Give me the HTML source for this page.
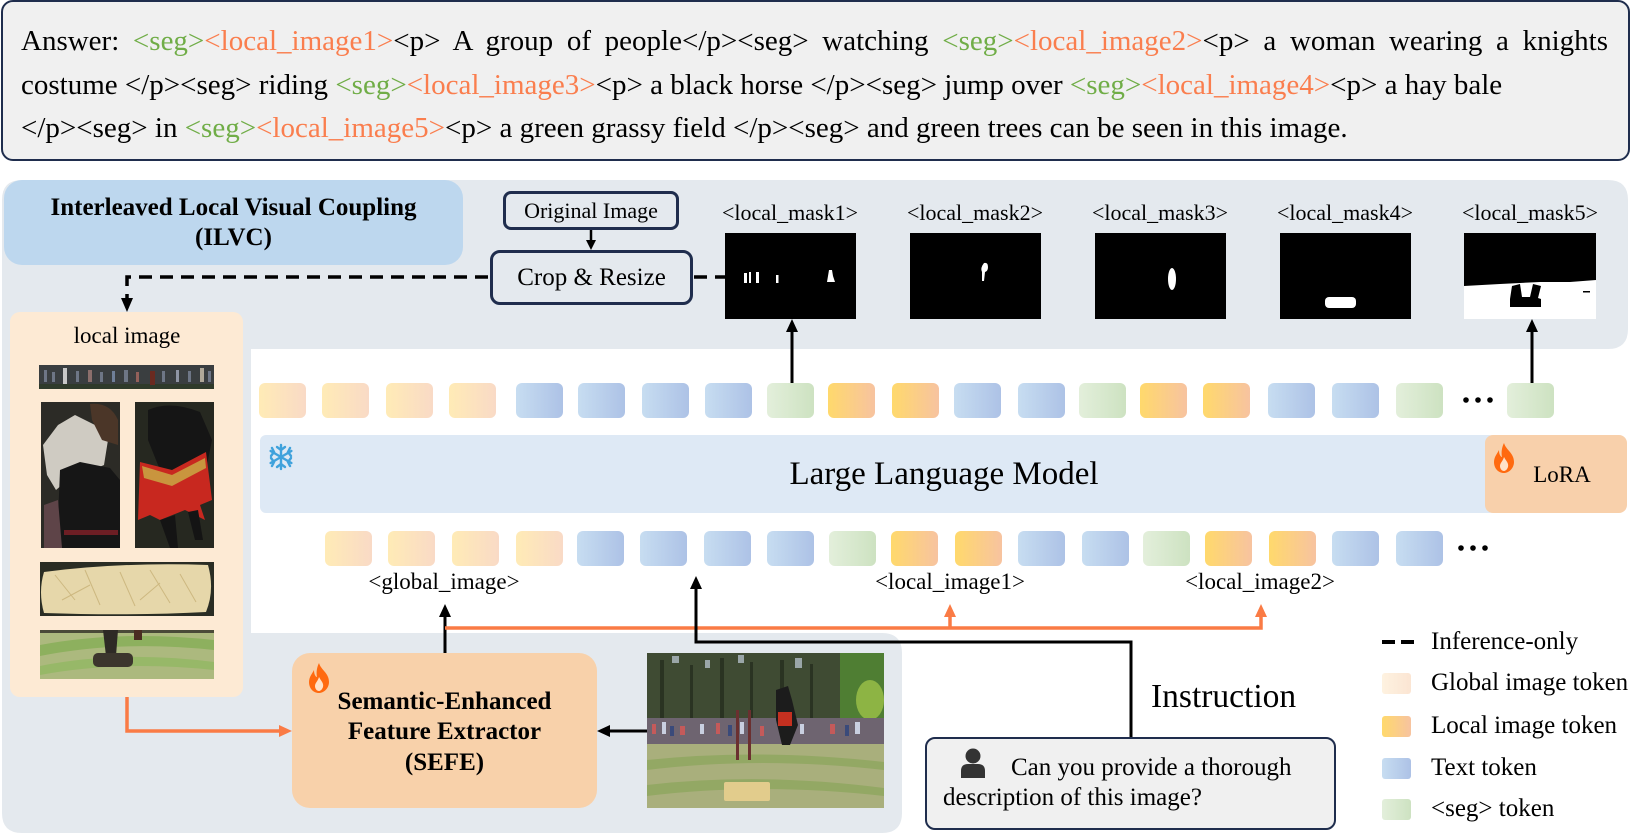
<!DOCTYPE html>
<html>
<head>
<meta charset="utf-8">
<style>
  html,body{margin:0;padding:0;background:#fff;}
  body{width:1647px;height:840px;position:relative;overflow:hidden;font-family:"Liberation Serif","Times New Roman",serif;color:#000;}
  .abs{position:absolute;}
  .ans{position:absolute;left:1px;top:0px;width:1625px;height:157px;background:#F0F0F0;border:2px solid #1F2D4D;border-radius:12px;}
  .txt{position:absolute;left:21px;top:20px;width:1587px;font-size:29px;line-height:43.5px;}
  .l1{text-align:justify;text-align-last:justify;white-space:nowrap;}
  .l2,.l3{white-space:nowrap;}
  .gr{color:#70AD47;}
  .or{color:#FA7E4E;}
  .box{position:absolute;display:flex;align-items:center;justify-content:center;text-align:center;box-sizing:border-box;}
  .t{position:absolute;width:47px;height:35px;border-radius:6px;}
  .g{background:linear-gradient(90deg,#FFEBB6,#F9DAC6);}
  .x{background:linear-gradient(90deg,#C7DDF1,#ADC2E6);}
  .s{background:linear-gradient(90deg,#E3EFDB,#CDE2C1);}
  .l{background:linear-gradient(90deg,#FFD96C,#F7C3A0);}
  .lab{position:absolute;text-align:center;white-space:nowrap;}
</style>
</head>
<body>

<!-- gray background shape -->
<svg class="abs" style="left:0;top:0;z-index:0" width="1647" height="840">
  <path d="M 22 180 H 1608 Q 1628 180 1628 200 V 329 Q 1628 349 1608 349 H 251 V 633 H 882 Q 902 633 902 653 V 813 Q 902 833 882 833 H 22 Q 2 833 2 813 V 200 Q 2 180 22 180 Z" fill="#E4E9EE"/>
</svg>

<!-- Answer box -->
<div class="ans" style="z-index:1"></div>
<div class="txt" style="z-index:2">
  <div class="l1">Answer: <span class="gr">&lt;seg&gt;</span><span class="or">&lt;local_image1&gt;</span>&lt;p&gt; A group of people&lt;/p&gt;&lt;seg&gt; watching <span class="gr">&lt;seg&gt;</span><span class="or">&lt;local_image2&gt;</span>&lt;p&gt; a woman wearing a knights</div>
  <div class="l2">costume &lt;/p&gt;&lt;seg&gt; riding <span class="gr">&lt;seg&gt;</span><span class="or">&lt;local_image3&gt;</span>&lt;p&gt; a black horse &lt;/p&gt;&lt;seg&gt; jump over <span class="gr">&lt;seg&gt;</span><span class="or">&lt;local_image4&gt;</span>&lt;p&gt; a hay bale</div>
  <div class="l3">&lt;/p&gt;&lt;seg&gt; in <span class="gr">&lt;seg&gt;</span><span class="or">&lt;local_image5&gt;</span>&lt;p&gt; a green grassy field &lt;/p&gt;&lt;seg&gt; and green trees can be seen in this image.</div>
</div>

<!-- ILVC box -->
<div class="box" style="left:4px;top:180px;width:459px;height:85px;background:#BDD7EE;border-radius:18px;font-weight:bold;font-size:25px;line-height:30px;z-index:1">Interleaved Local Visual Coupling<br>(ILVC)</div>

<!-- Original Image / Crop & Resize -->
<div class="box" style="left:503px;top:191px;width:176px;height:39px;border:3px solid #1F2D4D;border-radius:8px;font-size:22px;z-index:1">Original Image</div>
<div class="box" style="left:490px;top:250px;width:203px;height:55px;border:3px solid #1F2D4D;border-radius:10px;font-size:25px;z-index:1">Crop &amp; Resize</div>

<!-- local image panel -->
<div class="abs" style="left:10px;top:312px;width:233px;height:385px;background:#FDEAD4;border-radius:10px;z-index:1"></div>
<div class="lab" style="left:27px;top:322px;width:200px;font-size:23px;line-height:28px;z-index:2">local image</div>

<!-- mask labels -->
<div class="lab" style="left:700px;top:199px;width:180px;font-size:22px;line-height:28px;z-index:2">&lt;local_mask1&gt;</div>
<div class="lab" style="left:885px;top:199px;width:180px;font-size:22px;line-height:28px;z-index:2">&lt;local_mask2&gt;</div>
<div class="lab" style="left:1070px;top:199px;width:180px;font-size:22px;line-height:28px;z-index:2">&lt;local_mask3&gt;</div>
<div class="lab" style="left:1255px;top:199px;width:180px;font-size:22px;line-height:28px;z-index:2">&lt;local_mask4&gt;</div>
<div class="lab" style="left:1440px;top:199px;width:180px;font-size:22px;line-height:28px;z-index:2">&lt;local_mask5&gt;</div>

<!-- LLM bar -->
<div class="abs" style="left:260px;top:435px;width:1235px;height:78px;background:#DEE9F5;border-radius:6px;z-index:1"></div>
<div class="box" style="left:1485px;top:435px;width:142px;height:78px;background:#F8D0AB;border-radius:8px;z-index:2"></div>
<div class="lab" style="left:695px;top:454px;width:498px;font-size:33px;line-height:40px;z-index:3">Large Language Model</div>
<div class="lab" style="left:1512px;top:461px;width:100px;font-size:23px;line-height:28px;z-index:3">LoRA</div>

<!-- Row 1 tokens -->
<div style="position:absolute;left:0;top:0;z-index:2">
  <div class="t g" style="left:259px;top:383px"></div>
  <div class="t g" style="left:322px;top:383px"></div>
  <div class="t g" style="left:386px;top:383px"></div>
  <div class="t g" style="left:449px;top:383px"></div>
  <div class="t x" style="left:516px;top:383px"></div>
  <div class="t x" style="left:578px;top:383px"></div>
  <div class="t x" style="left:642px;top:383px"></div>
  <div class="t x" style="left:705px;top:383px"></div>
  <div class="t s" style="left:767px;top:383px"></div>
  <div class="t l" style="left:828px;top:383px"></div>
  <div class="t l" style="left:892px;top:383px"></div>
  <div class="t x" style="left:954px;top:383px"></div>
  <div class="t x" style="left:1018px;top:383px"></div>
  <div class="t s" style="left:1079px;top:383px"></div>
  <div class="t l" style="left:1140px;top:383px"></div>
  <div class="t l" style="left:1203px;top:383px"></div>
  <div class="t x" style="left:1268px;top:383px"></div>
  <div class="t x" style="left:1332px;top:383px"></div>
  <div class="t s" style="left:1396px;top:383px"></div>
  <div class="t s" style="left:1507px;top:383px"></div>

  <!-- Row 2 tokens -->
  <div class="t g" style="left:325px;top:531px"></div>
  <div class="t g" style="left:388px;top:531px"></div>
  <div class="t g" style="left:452px;top:531px"></div>
  <div class="t g" style="left:516px;top:531px"></div>
  <div class="t x" style="left:577px;top:531px"></div>
  <div class="t x" style="left:640px;top:531px"></div>
  <div class="t x" style="left:704px;top:531px"></div>
  <div class="t x" style="left:767px;top:531px"></div>
  <div class="t s" style="left:829px;top:531px"></div>
  <div class="t l" style="left:891px;top:531px"></div>
  <div class="t l" style="left:955px;top:531px"></div>
  <div class="t x" style="left:1018px;top:531px"></div>
  <div class="t x" style="left:1082px;top:531px"></div>
  <div class="t s" style="left:1143px;top:531px"></div>
  <div class="t l" style="left:1205px;top:531px"></div>
  <div class="t l" style="left:1269px;top:531px"></div>
  <div class="t x" style="left:1332px;top:531px"></div>
  <div class="t x" style="left:1396px;top:531px"></div>
</div>

<!-- Row 2 labels -->
<div class="lab" style="left:344px;top:568px;width:200px;font-size:23px;line-height:28px;z-index:2">&lt;global_image&gt;</div>
<div class="lab" style="left:850px;top:568px;width:200px;font-size:23px;line-height:28px;z-index:2">&lt;local_image1&gt;</div>
<div class="lab" style="left:1160px;top:568px;width:200px;font-size:23px;line-height:28px;z-index:2">&lt;local_image2&gt;</div>

<!-- SEFE -->
<div class="box" style="left:292px;top:653px;width:305px;height:155px;background:#F8D1AA;border-radius:18px;font-weight:bold;font-size:25px;line-height:30.5px;padding-top:4px;z-index:1">Semantic-Enhanced<br>Feature Extractor<br>(SEFE)</div>

<!-- Instruction -->
<div class="lab" style="left:1151px;top:677px;font-size:33.5px;line-height:40px;z-index:2">Instruction</div>
<div class="abs" style="left:925px;top:737px;width:407px;height:89px;background:#F0F0F0;border:2px solid #1F2D4D;border-radius:10px;z-index:1"></div>
<div class="lab" style="left:1011px;top:753px;font-size:25px;line-height:30px;z-index:2">Can you provide a thorough</div>
<div class="lab" style="left:943px;top:783px;font-size:25px;line-height:30px;z-index:2">description of this image?</div>

<!-- Legend -->
<div class="abs" style="left:1382px;top:640px;width:13px;height:4px;background:#000;z-index:2"></div>
<div class="abs" style="left:1401px;top:640px;width:13px;height:4px;background:#000;z-index:2"></div>
<div class="lab" style="left:1431px;top:627px;font-size:25px;line-height:30px;z-index:2">Inference-only</div>
<div class="abs" style="left:1382px;top:673px;width:29px;height:21px;border-radius:3px;background:linear-gradient(90deg,#FEF2E0,#FBE5D3);z-index:2"></div>
<div class="lab" style="left:1431px;top:668px;font-size:25px;line-height:30px;z-index:2">Global image token</div>
<div class="abs" style="left:1382px;top:716px;width:29px;height:21px;border-radius:3px;background:linear-gradient(90deg,#FFD96C,#F7C3A0);z-index:2"></div>
<div class="lab" style="left:1431px;top:711px;font-size:25px;line-height:30px;z-index:2">Local image token</div>
<div class="abs" style="left:1382px;top:758px;width:29px;height:21px;border-radius:3px;background:linear-gradient(90deg,#C7DDF1,#ADC2E6);z-index:2"></div>
<div class="lab" style="left:1431px;top:753px;font-size:25px;line-height:30px;z-index:2">Text token</div>
<div class="abs" style="left:1382px;top:799px;width:29px;height:21px;border-radius:3px;background:linear-gradient(90deg,#E3EFDB,#CDE2C1);z-index:2"></div>
<div class="lab" style="left:1431px;top:794px;font-size:25px;line-height:30px;z-index:2">&lt;seg&gt; token</div>

<!-- graphics overlay -->
<svg class="abs" style="left:0;top:0;z-index:5" width="1647" height="840">
  <!-- masks -->
  <rect x="725" y="233" width="131" height="86" fill="#000"/>
  <rect x="744" y="273" width="3" height="10" fill="#fff"/>
  <rect x="749" y="272" width="2" height="11" fill="#fff"/>
  <rect x="756" y="272" width="3" height="11" fill="#fff"/>
  <rect x="776" y="275" width="2.5" height="8" fill="#fff"/>
  <path d="M829 270 L832 270 L833 276 L835 282 L827 282 L828 276 Z" fill="#fff"/>

  <rect x="910" y="233" width="131" height="86" fill="#000"/>
  <path d="M984 263 Q988 262 988 267 Q988 271 985 272 L984 281 L982 281 L982 272 Q980 268 984 263 Z" fill="#fff"/>

  <rect x="1095" y="233" width="131" height="86" fill="#000"/>
  <ellipse cx="1172" cy="279" rx="4" ry="11" fill="#fff"/>

  <rect x="1280" y="233" width="131" height="86" fill="#000"/>
  <rect x="1325" y="297" width="31" height="11" rx="4" fill="#fff"/>

  <rect x="1464" y="233" width="132" height="86" fill="#000"/>
  <path d="M1464 286 L1500 284 L1540 282 L1570 282 L1596 280 L1596 319 L1464 319 Z" fill="#fff"/>
  <path d="M1512 286 L1520 284 L1522 297 L1530 297 L1533 284 L1541 286 L1538 298 L1541 299 L1541 307 L1510 307 L1510 299 Z" fill="#000"/>
  <rect x="1583" y="291" width="7" height="1.5" fill="#000"/>

  <!-- local panel images -->
  <rect x="39" y="365" width="175" height="24" fill="#3A3E40"/>
  <rect x="39" y="384" width="175" height="5" fill="#2F3A2A"/>
  <g fill="#6E7686">
    <rect x="44" y="370" width="3" height="12"/><rect x="52" y="372" width="3" height="10"/><rect x="63" y="368" width="4" height="16" fill="#C8C8C8"/>
    <rect x="76" y="371" width="3" height="11"/><rect x="88" y="370" width="4" height="12" fill="#8C6F6C"/><rect x="100" y="372" width="3" height="10"/>
    <rect x="112" y="371" width="3" height="11" fill="#6F7F98"/><rect x="124" y="370" width="4" height="12"/><rect x="136" y="372" width="3" height="10" fill="#93605A"/>
    <rect x="150" y="371" width="5" height="14" fill="#6A2A20"/><rect x="162" y="371" width="3" height="11"/><rect x="176" y="370" width="3" height="12" fill="#8F95A4"/>
    <rect x="188" y="371" width="3" height="11"/><rect x="200" y="368" width="4" height="14" fill="#B0A898"/><rect x="208" y="371" width="3" height="11"/>
  </g>
  <!-- woman -->
  <rect x="41" y="402" width="79" height="146" fill="#2C2B26"/>
  <path d="M43 445 L58 425 L75 415 L95 425 L108 440 L104 465 L88 472 L70 478 L56 490 L47 475 Z" fill="#CFCBC2"/>
  <path d="M90 404 Q110 402 118 420 L118 445 L102 440 L92 420 Z" fill="#4B3628"/>
  <path d="M60 470 L80 462 L110 468 L120 480 L120 548 L62 548 L58 520 Z" fill="#161616"/>
  <path d="M44 505 L58 500 L62 548 L44 548 Z" fill="#5E4448"/>
  <rect x="64" y="530" width="54" height="5" fill="#6D1E24"/>
  <!-- horse -->
  <rect x="135" y="402" width="79" height="146" fill="#262820"/>
  <path d="M148 410 Q170 400 200 412 L212 440 L206 470 L182 478 L160 470 L148 440 Z" fill="#151515"/>
  <path d="M140 462 L172 470 L206 452 L212 500 L200 505 L205 520 L185 510 L160 520 L150 515 L138 520 Z" fill="#C8281F"/>
  <path d="M142 466 L172 475 L205 458 L206 468 L172 486 L144 478 Z" fill="#C9953E"/>
  <path d="M160 520 L170 548 L178 548 L175 515 Z M188 512 L195 540 L203 540 L198 510 Z" fill="#141414"/>
  <!-- hay -->
  <rect x="40" y="562" width="174" height="54" fill="#2A2D24"/>
  <path d="M44 572 Q120 562 208 565 Q215 590 206 612 Q130 616 44 613 Q38 592 44 572 Z" fill="#E6D7AA"/>
  <g stroke="#CDB880" stroke-width="1">
    <line x1="55" y1="575" x2="75" y2="600"/><line x1="85" y1="570" x2="100" y2="605"/><line x1="120" y1="572" x2="135" y2="606"/>
    <line x1="150" y1="570" x2="170" y2="603"/><line x1="180" y1="574" x2="196" y2="602"/><line x1="62" y1="600" x2="90" y2="585"/>
    <line x1="140" y1="600" x2="160" y2="583"/>
  </g>
  <!-- field -->
  <rect x="40" y="630" width="174" height="49" fill="#ACB97E"/>
  <path d="M40 645 Q120 630 214 640 L214 650 Q120 640 40 656 Z" fill="#8DB05E"/>
  <path d="M40 666 Q120 650 214 662 L214 670 Q120 660 40 675 Z" fill="#97B868"/>
  <rect x="40" y="630" width="174" height="3" fill="#4A4A38"/>
  <path d="M103 630 L118 630 L116 656 L106 656 Z" fill="#2E2A25"/>
  <rect x="134" y="630" width="8" height="10" fill="#4A2C22"/>
  <rect x="93" y="653" width="40" height="14" rx="5" fill="#3C362D"/>

  <!-- main photo -->
  <rect x="647" y="653" width="237" height="155" fill="#3F4B33"/>
  <g fill="#2A3322">
    <rect x="660" y="660" width="4" height="60"/><rect x="690" y="665" width="3" height="55"/><rect x="720" y="658" width="4" height="62"/>
    <rect x="750" y="662" width="3" height="58"/><rect x="780" y="660" width="4" height="60"/><rect x="810" y="664" width="3" height="56"/>
  </g>
  <g fill="#9AA6A8">
    <rect x="672" y="656" width="7" height="7"/><rect x="705" y="660" width="5" height="8"/><rect x="738" y="655" width="6" height="8"/><rect x="795" y="658" width="7" height="10"/>
  </g>
  <rect x="840" y="653" width="44" height="70" fill="#4F7E33"/>
  <ellipse cx="870" cy="700" rx="14" ry="20" fill="#8DB444"/>
  <rect x="647" y="718" width="237" height="28" fill="#6E6470"/>
  <g fill="#C45A5A"><rect x="652" y="724" width="4" height="10"/><rect x="680" y="726" width="5" height="9"/><rect x="716" y="723" width="4" height="11"/><rect x="760" y="726" width="4" height="10"/><rect x="830" y="724" width="5" height="10"/></g>
  <g fill="#C9CFE0"><rect x="662" y="722" width="4" height="12"/><rect x="700" y="724" width="4" height="10"/><rect x="740" y="722" width="4" height="12"/><rect x="800" y="724" width="4" height="10"/><rect x="855" y="722" width="5" height="12"/></g>
  <g fill="#3A4A7A"><rect x="670" y="726" width="4" height="10"/><rect x="728" y="725" width="4" height="11"/><rect x="786" y="726" width="4" height="10"/><rect x="845" y="725" width="4" height="11"/></g>
  <rect x="647" y="744" width="237" height="64" fill="#A9AF7C"/>
  <path d="M647 760 Q760 748 884 762 L884 770 Q760 756 647 770 Z" fill="#93A864"/>
  <path d="M647 785 Q760 772 884 788 L884 796 Q760 782 647 796 Z" fill="#93A864"/>
  <path d="M776 690 L788 686 L792 700 L798 725 L790 745 L782 745 L776 720 Z" fill="#1C1C1C"/>
  <rect x="778" y="712" width="14" height="14" fill="#C43020"/>
  <rect x="736" y="710" width="3" height="50" fill="#6B3030"/>
  <rect x="748" y="710" width="3" height="50" fill="#6B3030"/>
  <rect x="724" y="782" width="46" height="19" rx="2" fill="#E2CC8C"/>

  <!-- snowflake -->
  <g stroke="#3FA2DC" stroke-width="2.4" stroke-linecap="round" fill="none">
    <line x1="281" y1="445" x2="281" y2="469"/>
    <line x1="270.6" y1="451" x2="291.4" y2="463"/>
    <line x1="270.6" y1="463" x2="291.4" y2="451"/>
    <path d="M277 447 L281 450 L285 447 M277 467 L281 464 L285 467"/>
    <path d="M271 456 L274 452 L272 448 M291 458 L288 462 L290 466"/>
    <path d="M271 458 L274 462 L272 466 M291 456 L288 452 L290 448"/>
  </g>

  <!-- flames -->
  <g transform="translate(1494,443)">
    <path d="M10 0 C12 7 20 10 20 19 C20 25 15 30 10 30 C4 30 0 25 0 19 C0 14 3 11 5 7 C5 12 7 14 8 14 C7 9 8 4 10 0 Z" fill="#FF6A10"/>
    <path d="M10 14 C12 18 15 20 14 24 C13 27 11 28 10 28 C8 28 6 26 6 23 C6 20 9 18 10 14 Z" fill="#FFE2C8"/>
  </g>
  <g transform="translate(309,663)">
    <path d="M10 0 C12 7 20 10 20 19 C20 25 15 30 10 30 C4 30 0 25 0 19 C0 14 3 11 5 7 C5 12 7 14 8 14 C7 9 8 4 10 0 Z" fill="#FF6A10"/>
    <path d="M10 14 C12 18 15 20 14 24 C13 27 11 28 10 28 C8 28 6 26 6 23 C6 20 9 18 10 14 Z" fill="#FFE2C8"/>
  </g>

  <!-- person icon -->
  <circle cx="973" cy="756" r="7.5" fill="#333"/>
  <path d="M961 778 L961 771 Q961 764 968 764 L978 764 Q985 764 985 771 L985 778 Z" fill="#333"/>

  <!-- dots -->
  <g fill="#000">
    <circle cx="1466" cy="400" r="2.8"/><circle cx="1478" cy="400" r="2.8"/><circle cx="1490" cy="400" r="2.8"/>
    <circle cx="1461" cy="548" r="2.8"/><circle cx="1473" cy="548" r="2.8"/><circle cx="1485" cy="548" r="2.8"/>
  </g>

  <!-- arrows & connectors -->
  <g stroke="#000" stroke-width="2.5" fill="none">
    <line x1="591" y1="230" x2="591" y2="241"/>
  </g>
  <polygon points="591,250 586,240 596,240" fill="#000"/>

  <g stroke="#000" stroke-width="3.5" fill="none" stroke-dasharray="13 8">
    <path d="M488 277 H127 V299"/>
    <path d="M694 277 H725"/>
  </g>
  <polygon points="127,312 121,298 133,298" fill="#000"/>

  <g stroke="#000" stroke-width="3" fill="none">
    <line x1="792" y1="383" x2="792" y2="330"/>
    <line x1="1532" y1="383" x2="1532" y2="330"/>
    <line x1="445" y1="653" x2="445" y2="615"/>
    <line x1="647" y1="731" x2="608" y2="731"/>
  </g>
  <polygon points="792,319 786,332 798,332" fill="#000"/>
  <polygon points="1532,319 1526,332 1538,332" fill="#000"/>
  <polygon points="445,604 439,617 451,617" fill="#000"/>
  <polygon points="597,731 610,725 610,737" fill="#000"/>

  <g stroke="#FA7B45" stroke-width="3.5" fill="none">
    <path d="M445 628 H1261 V615"/>
    <path d="M950 628 V615"/>
    <path d="M127 697 V731 H282"/>
  </g>
  <polygon points="950,604 944,617 956,617" fill="#FA7B45"/>
  <polygon points="1261,604 1255,617 1267,617" fill="#FA7B45"/>
  <polygon points="292,731 279,725 279,737" fill="#FA7B45"/>

  <g stroke="#000" stroke-width="3" fill="none">
    <path d="M1131 737 V642 H696 V588"/>
  </g>
  <polygon points="696,576 690,589 702,589" fill="#000"/>
</svg>

</body>
</html>
